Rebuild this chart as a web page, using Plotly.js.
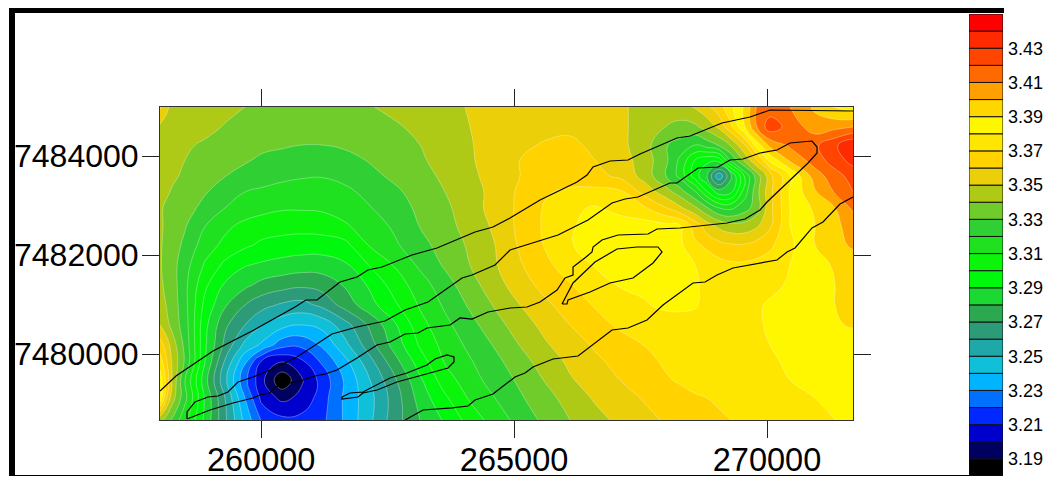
<!DOCTYPE html>
<html><head><meta charset="utf-8">
<script src="https://cdn.plot.ly/plotly-3.0.1.min.js"></script>
<style>html,body{margin:0;padding:0;background:#fff}</style></head>
<body><div id="g" style="width:1049px;height:477px"></div>
<script>
const eastings=[258000,258119,258237,258494,258890,259285,259680,260016,260411,260807,261203,261657,262152,262646,263140,263634,264129,264623,265117,265611,266106,266600,267094,267588,267984,268280,268577,268814,269051,269288,269565,269802,270059,270455,270949,271345,271700];
const northingsTopDown=[7484990,7484586,7484222,7483919,7483596,7483273,7482950,7482606,7482202,7481798,7481394,7480990,7480586,7480182,7479839,7479475,7479112,7478667];
const gridTopDown=[
[3.362,3.352,3.348,3.346,3.344,3.342,3.34,3.338,3.337,3.336,3.336,3.3365,3.3395,3.3424,3.3452,3.348,3.3505,3.352,3.353,3.354,3.354,3.353,3.351,3.348,3.345,3.346,3.351,3.357,3.366,3.378,3.392,3.411,3.414,3.41,3.398,3.389,3.383],
[3.348,3.347,3.346,3.344,3.342,3.3395,3.337,3.336,3.335,3.334,3.334,3.335,3.3368,3.3388,3.3423,3.3462,3.35,3.3525,3.355,3.357,3.358,3.356,3.352,3.346,3.34,3.337,3.338,3.344,3.352,3.368,3.39,3.41,3.426,3.416,3.405,3.407,3.41],
[3.345,3.344,3.343,3.341,3.339,3.336,3.333,3.332,3.331,3.33,3.33,3.3315,3.3345,3.3375,3.34,3.345,3.3495,3.353,3.358,3.361,3.362,3.358,3.353,3.344,3.331,3.326,3.32,3.325,3.331,3.341,3.36,3.385,3.403,3.412,3.418,3.428,3.44],
[3.344,3.343,3.342,3.34,3.337,3.334,3.331,3.3285,3.327,3.326,3.325,3.3268,3.3308,3.3348,3.3387,3.3436,3.3489,3.3545,3.36,3.362,3.363,3.36,3.355,3.345,3.333,3.318,3.30,3.293,3.295,3.322,3.343,3.36,3.383,3.402,3.415,3.425,3.434],
[3.343,3.342,3.341,3.339,3.3343,3.3302,3.327,3.325,3.3225,3.321,3.3205,3.3228,3.3274,3.332,3.3367,3.3418,3.348,3.3535,3.36,3.363,3.365,3.363,3.358,3.346,3.331,3.317,3.295,3.28,3.252,3.279,3.312,3.335,3.356,3.38,3.405,3.416,3.424],
[3.342,3.341,3.3395,3.3355,3.3308,3.3254,3.32,3.318,3.316,3.315,3.3155,3.3178,3.3228,3.3282,3.334,3.34,3.3469,3.3525,3.362,3.369,3.372,3.373,3.372,3.356,3.345,3.335,3.321,3.301,3.285,3.288,3.316,3.337,3.357,3.381,3.399,3.411,3.42],
[3.341,3.339,3.338,3.334,3.327,3.32,3.316,3.313,3.311,3.311,3.3115,3.3145,3.3195,3.3256,3.332,3.338,3.3453,3.354,3.362,3.371,3.378,3.381,3.377,3.371,3.361,3.352,3.342,3.331,3.32,3.318,3.326,3.335,3.357,3.38,3.392,3.40,3.412],
[3.341,3.339,3.3365,3.331,3.3205,3.3127,3.3075,3.3055,3.3045,3.304,3.305,3.309,3.315,3.322,3.3305,3.3368,3.3438,3.352,3.3626,3.3715,3.379,3.383,3.384,3.384,3.382,3.38,3.365,3.354,3.347,3.343,3.343,3.348,3.358,3.38,3.39,3.398,3.404],
[3.341,3.338,3.335,3.3277,3.315,3.3073,3.3019,3.298,3.296,3.295,3.295,3.297,3.311,3.3185,3.3267,3.3343,3.3415,3.35,3.3614,3.3707,3.3793,3.384,3.386,3.386,3.385,3.382,3.372,3.368,3.363,3.361,3.361,3.364,3.368,3.378,3.39,3.396,3.402],
[3.341,3.337,3.334,3.324,3.3087,3.2976,3.2907,3.2885,3.2865,3.285,3.285,3.2885,3.3008,3.3109,3.3219,3.3314,3.34,3.349,3.359,3.3677,3.3746,3.3808,3.384,3.385,3.384,3.383,3.38,3.376,3.374,3.372,3.372,3.373,3.375,3.38,3.387,3.391,3.393],
[3.342,3.338,3.335,3.3225,3.302,3.2887,3.2823,3.277,3.274,3.272,3.274,3.281,3.2916,3.3047,3.3152,3.3258,3.336,3.3458,3.3554,3.3633,3.3695,3.375,3.3808,3.382,3.383,3.382,3.381,3.378,3.376,3.376,3.376,3.377,3.378,3.381,3.386,3.39,3.392],
[3.344,3.34,3.336,3.3233,3.2971,3.2813,3.27,3.2635,3.2585,3.2565,3.2625,3.274,3.2865,3.2985,3.3112,3.3216,3.3315,3.341,3.35,3.3578,3.3647,3.3708,3.375,3.3792,3.382,3.382,3.381,3.377,3.375,3.375,3.376,3.379,3.381,3.384,3.387,3.39,3.392],
[3.35,3.344,3.337,3.325,3.2929,3.272,3.26,3.2505,3.2435,3.24,3.243,3.256,3.272,3.2887,3.3063,3.3173,3.3267,3.3362,3.345,3.3529,3.36,3.3663,3.3717,3.374,3.375,3.376,3.376,3.376,3.376,3.376,3.377,3.379,3.381,3.384,3.387,3.389,3.391],
[3.365,3.356,3.346,3.3271,3.2917,3.2673,3.2473,3.238,3.2237,3.2225,3.2315,3.2471,3.2658,3.2842,3.3013,3.3136,3.3224,3.331,3.3403,3.3487,3.3554,3.3613,3.3658,3.3703,3.373,3.374,3.375,3.375,3.376,3.376,3.377,3.378,3.38,3.382,3.384,3.385,3.385],
[3.376,3.362,3.349,3.3286,3.29,3.2586,3.2314,3.2075,3.2,3.208,3.2213,3.237,3.2567,3.2764,3.295,3.3107,3.319,3.3271,3.3359,3.3445,3.3519,3.3579,3.363,3.3677,3.371,3.373,3.375,3.376,3.377,3.377,3.378,3.379,3.379,3.381,3.382,3.382,3.382],
[3.385,3.368,3.35,3.32,3.284,3.2525,3.2229,3.2025,3.182,3.199,3.2138,3.2314,3.25,3.2687,3.2883,3.3053,3.3158,3.3244,3.3318,3.3406,3.349,3.3544,3.36,3.3644,3.369,3.371,3.373,3.374,3.375,3.376,3.377,3.378,3.379,3.38,3.381,3.381,3.381],
[3.388,3.362,3.345,3.3229,3.2886,3.26,3.23,3.2069,3.1975,3.2024,3.2154,3.2319,3.247,3.265,3.2841,3.2983,3.3114,3.32,3.3287,3.3363,3.3441,3.3512,3.3562,3.361,3.365,3.367,3.369,3.37,3.372,3.373,3.375,3.376,3.377,3.378,3.38,3.382,3.383],
[3.343,3.336,3.329,3.3129,3.2875,3.262,3.237,3.2187,3.2125,3.2135,3.2175,3.2315,3.2481,3.2657,3.28,3.2915,3.304,3.3146,3.3236,3.3325,3.34,3.3466,3.3523,3.3571,3.361,3.363,3.365,3.366,3.368,3.37,3.371,3.373,3.374,3.376,3.378,3.38,3.384]
];
const levels=[3.18,3.19,3.20,3.21,3.22,3.23,3.24,3.25,3.26,3.27,3.28,3.29,3.30,3.31,3.32,3.33,3.34,3.35,3.36,3.37,3.38,3.39,3.40,3.41,3.42,3.43,3.44];
const bandColors=['#000000','#000060','#0000cc','#0028ff','#0070ff','#00b4ff','#10c0d8','#1fa8a8','#2d9a78','#2ba850','#1cd832','#00f80c','#0bf50b','#1fe11f','#30cf33','#6fcc2a','#aec916','#ebcf08','#ffd200','#ffe600','#fff700','#ffd700','#ffa000','#ff6a00','#ff4500','#ff2a00','#ff0000'];
const scaleLabels=[3.19,3.21,3.23,3.25,3.27,3.29,3.31,3.33,3.35,3.37,3.39,3.41,3.43];
const xTicks=[260000,265000,270000];
const yTicks=[7480000,7482000,7484000];
const lineAx=[258000,258316,259048,259858,260669,260886,261104,261559,261895,262112,262389,262982,263476,264228,264583,264920,265513,266244,266442,266561,266897,267252,267490,268221,268478,269111,269664,270060,271700];
const lineAy=[7479253,7479556,7480061,7480485,7480950,7481091,7481091,7481455,7481556,7481697,7481758,7482000,7482142,7482465,7482566,7482748,7483111,7483475,7483616,7483778,7483899,7483919,7484040,7484364,7484404,7484667,7484788,7484929,7484909];
const lineBx=[258534,258534,258692,258949,259147,259344,259542,259839,260274,260708,261400,261895,262448,262844,263298,263971,264168,264623,264920,265868,266462,266936,267193,267450,268083,268221,268636,269032,269269,269526,269862,270198,270455,270890,270989,270989,270811,270119,270000,269862,269565,269209,268280,267826,267648,267055,266738,266561,266541,266422,266165,266165,266007,265849,265710,265513,265256,264920,264485,264168,263931,263733,263279,263101,262844,262547,262290,261895,261499,261262,261064,260827,260570,260274,260175,259977,259839,259443,258989,258652,258534];
const lineBy=[7478687,7478829,7479031,7479132,7479152,7479233,7479435,7479536,7479718,7479940,7480404,7480546,7480667,7480889,7481051,7481536,7481596,7481798,7482101,7482404,7482707,7483051,7483131,7483172,7483455,7483455,7483758,7483778,7483919,7483939,7484061,7484121,7484263,7484303,7484182,7484061,7483859,7483172,7483071,7482909,7482727,7482647,7482546,7482525,7482424,7482404,7482303,7482162,7482061,7481960,7481758,7481596,7481536,7481293,7481192,7481051,7480950,7480930,7480849,7480707,7480728,7480586,7480526,7480425,7480404,7480243,7480182,7479920,7479677,7479596,7479556,7479475,7479415,7479334,7479213,7479172,7479112,7479011,7478869,7478728,7478687];
const lineCx=[265948,266165,266600,267035,267430,267845,267925,267747,267351,266897,266501,266066,266046,265948];
const lineCy=[7481010,7481435,7481859,7482121,7482162,7482162,7482061,7481839,7481536,7481435,7481253,7481091,7481010,7481010];
const lineDx=[262844,263200,263773,264089,264228,264583,265018,265216,265374,265770,266264,266936,267252,267628,267944,268537,268775,269012,269328,270198,270396,270554,270890,271107,271443,271700];
const lineDy=[7478667,7478869,7478910,7478950,7479071,7479192,7479536,7479617,7479738,7479899,7479960,7480485,7480526,7480687,7480990,7481435,7481455,7481596,7481738,7481899,7482061,7482142,7482546,7482667,7483030,7483172];
const lineEx=[261598,261756,262013,262290,262547,262883,263279,263437,263674,263812,263812,263694,263397,263002,262685,262290,262013,261914,261598,261598];
const lineEy=[7479132,7479213,7479233,7479374,7479516,7479617,7479778,7479899,7479980,7479940,7479839,7479718,7479637,7479536,7479435,7479273,7479213,7479132,7479091,7479132];

const W=1049,H=477;
const n=levels.length+1;
const cs=[];
cs.push([0,bandColors[0]]);
bandColors.forEach((c,k)=>{cs.push([(k+0.5)/n,c]);cs.push([(k+1.5)/n,c]);});
cs.push([1,bandColors[bandColors.length-1]]);

const traces=[{type:'contour',x:eastings,y:northingsTopDown.slice().reverse(),z:gridTopDown.slice().reverse(),
 colorscale:cs,showscale:false,autocontour:false,hoverinfo:'skip',
 contours:{start:3.18,end:3.4501,size:0.01,coloring:'fill'},
 line:{color:'rgba(255,255,255,0.45)',width:0.7,smoothing:1.3}}];
[[lineAx,lineAy],[lineBx,lineBy],[lineCx,lineCy],[lineDx,lineDy],[lineEx,lineEy]].forEach(p=>{
 traces.push({type:'scatter',mode:'lines',x:p[0],y:p[1],line:{color:'#000',width:1.2},hoverinfo:'skip',showlegend:false});
});
traces.push({type:'bar',xaxis:'x2',yaxis:'y2',x:levels.map(()=>0),y:levels.map(()=>0.01),base:levels,width:1,
 marker:{color:bandColors,line:{color:'#111',width:1}},hoverinfo:'skip',showlegend:false});

const font={family:'"Liberation Sans",Arial,sans-serif',color:'#000'};
const rect=(x0,y0,x1,y1,c)=>({type:'rect',xref:'paper',yref:'paper',x0:x0/W,x1:x1/W,y0:1-y1/H,y1:1-y0/H,fillcolor:c,line:{width:0},layer:'above'});
const layout={width:W,height:H,margin:{l:0,r:0,t:0,b:0,pad:0},paper_bgcolor:'#fff',plot_bgcolor:'#fff',showlegend:false,barmode:'overlay',
 xaxis:{domain:[160/W,853/W],range:[258000,271700],tickvals:xTicks,tickformat:'d',ticks:'outside',ticklen:17,tickwidth:1,tickcolor:'#222',showline:true,linecolor:'#333',linewidth:1,mirror:'ticks',showgrid:false,zeroline:false,tickfont:Object.assign({size:32.5},font),ticklabelstandoff:-6},
 yaxis:{domain:[1-420/H,1-107/H],range:[7478667,7484990],tickvals:yTicks,tickformat:'d',ticks:'outside',ticklen:17,tickwidth:1,tickcolor:'#222',showline:true,linecolor:'#333',linewidth:1,mirror:'ticks',showgrid:false,zeroline:false,tickfont:Object.assign({size:32},font),ticklabelstandoff:-3},
 xaxis2:{domain:[969/W,1003/W],range:[-0.5,0.5],visible:false,anchor:'y2',fixedrange:true},
 yaxis2:{domain:[1-476/H,1-14/H],range:[3.18,3.45],anchor:'x2',side:'right',tickvals:scaleLabels,tickformat:'.2f',ticks:'',showgrid:false,zeroline:false,showline:false,tickfont:Object.assign({size:18},font),ticklabelstandoff:4},
 shapes:[rect(9,8,15,476,'#000'),rect(9,8,1004,13,'#000'),rect(15,475,969,476,'#000')]};
Plotly.newPlot('g',traces,layout,{displayModeBar:false,staticPlot:true});
</script></body></html>
